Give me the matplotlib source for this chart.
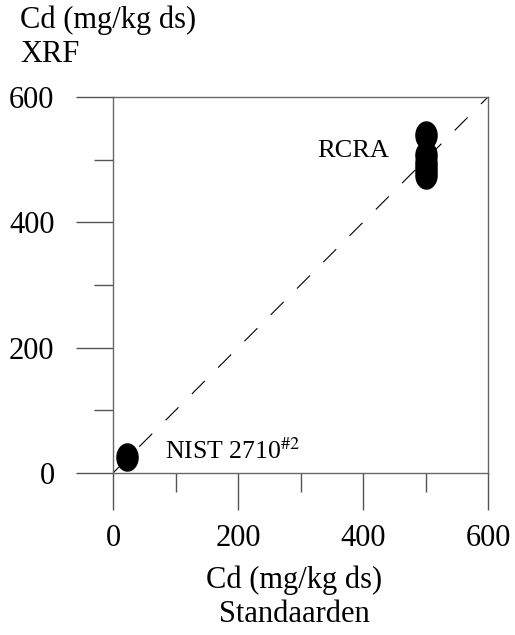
import numpy as np
import matplotlib
matplotlib.use('Agg')
import matplotlib.pyplot as plt
from matplotlib.path import Path

plt.rcParams['font.family'] = ['Liberation Serif', 'DejaVu Serif']

# data
nist_x = [21.8]
nist_y = [25]
rcra_x = [500, 500, 500, 500, 500]
rcra_y = [540, 508, 495, 485, 476]
ref_line = [0, 600]
major_ticks = [0, 200, 400, 600]
minor_ticks = [100, 300, 500]

# elliptical marker (a bit taller than wide)
t = np.linspace(0, 2 * np.pi, 60)
ellipse = Path(np.column_stack([0.39 * np.cos(t), 0.5 * np.sin(t)]), closed=True)

fig = plt.figure(figsize=(5.15, 6.35), dpi=100)
ax = fig.add_axes([113 / 515, 1 - 473 / 635, 375 / 515, 376 / 635])

ax.plot(ref_line, ref_line, color='black', lw=0.8, dashes=(16.5, 17))
ax.plot(nist_x, nist_y, ls='none', marker=ellipse, ms=19.5,
        color='black', clip_on=False)
ax.plot(rcra_x, rcra_y, ls='none', marker=ellipse, ms=19.5,
        color='black', clip_on=False)

ax.set_xlim(0, 600)
ax.set_ylim(0, 600)
ax.set_xticks(major_ticks)
ax.set_yticks(major_ticks)
ax.set_xticks(minor_ticks, minor=True)
ax.set_yticks(minor_ticks, minor=True)
ax.tick_params(which='major', direction='out', length=26.6, width=1.0,
               color='#555555', labelsize=22, pad=10)
ax.tick_params(axis='y', which='major', pad=15.5)
ax.tick_params(which='minor', direction='out', length=13.7, width=1.0,
               color='#555555')
for s in ax.spines.values():
    s.set_color('#666666')
    s.set_linewidth(1.0)

ax.text(327, 505, 'RCRA', fontsize=19, va='baseline', ha='left')
ax.text(83, 23, 'NIST 2710$^{\\#2}$', fontsize=18.5, va='baseline', ha='left',
        math_fontfamily='stix')

fig.text(20 / 515, 1 - 20 / 635, 'Cd (mg/kg ds)', fontsize=22,
         ha='left', va='center')
fig.text(20 / 515, 1 - 55 / 635, 'XRF', fontsize=22,
         ha='left', va='center')
fig.text(294 / 515, 1 - 580 / 635, 'Cd (mg/kg ds)', fontsize=22,
         ha='center', va='center')
fig.text(294 / 515, 1 - 615 / 635, 'Standaarden', fontsize=22,
         ha='center', va='center')

fig.savefig('out.png', dpi=100)
